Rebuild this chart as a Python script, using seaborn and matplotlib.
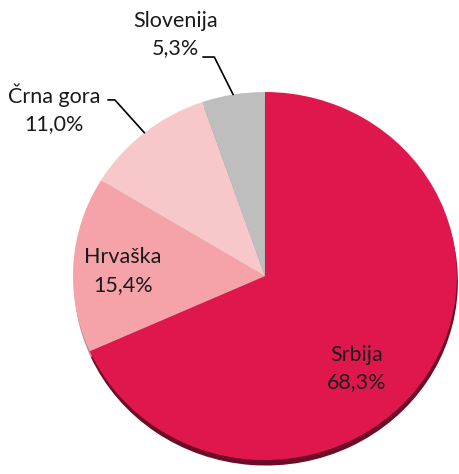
import numpy as np
import matplotlib
matplotlib.use("Agg")
import matplotlib.pyplot as plt
import seaborn as sns

countries = ["Srbija", "Hrvaška", "Črna gora", "Slovenija"]
shares = [68.3, 15.4, 11.0, 5.3]
colors = ["#E0174D", "#F5A3A8", "#F8C7C9", "#BEBEBE"]
shadow_colors = ["#6E0C26", "#B08A8C", "#B8A0A2", "#9A9A9A"]

sns.set_theme(style="white")
plt.rcParams["font.family"] = ["Lato", "DejaVu Sans"]

fig = plt.figure(figsize=(4.6, 4.74), dpi=100)
ax = fig.add_axes([0, 0, 1, 1])

# shadow underneath, then the pie itself
ax.pie(shares, colors=shadow_colors, startangle=90, counterclock=False,
       center=(0.005, -0.03), wedgeprops=dict(linewidth=0))
wedges, _ = ax.pie(shares, colors=colors, startangle=90, counterclock=False,
                   wedgeprops=dict(linewidth=0))

ax.set_aspect("auto")
ax.set_xlim(-1.380, 1.016)
ax.set_ylim(-1.076, 1.5)
ax.axis("off")

labels = [f"{c}\n{v:.1f}%".replace(".", ",") for c, v in zip(countries, shares)]
label_pos = [(0.479, -0.505), (-0.740, 0.027), (-1.099, 0.908), (-0.464, 1.31)]
for txt, (x, y) in zip(labels, label_pos):
    ax.text(x, y, txt, ha="center", va="center", fontsize=15.5,
            color="#1a1a1a", linespacing=1.45)

# leader lines for the two small slices
mids = 90 - (np.cumsum(shares) - np.array(shares) / 2) / 100 * 360
leaders = {2: ((-0.818, 0.957), 132), 3: ((-0.323, 1.190), 116.6)}
for i, (start, angB) in leaders.items():
    a = np.deg2rad(mids[i])
    edge = (np.cos(a), np.sin(a))
    ax.annotate("", xy=edge, xytext=start,
                arrowprops=dict(arrowstyle="-", color="black", lw=1.2,
                                shrinkA=0, shrinkB=0,
                                connectionstyle=f"angle,angleA=0,angleB={angB},rad=0"))

fig.savefig("out.png", dpi=100)
